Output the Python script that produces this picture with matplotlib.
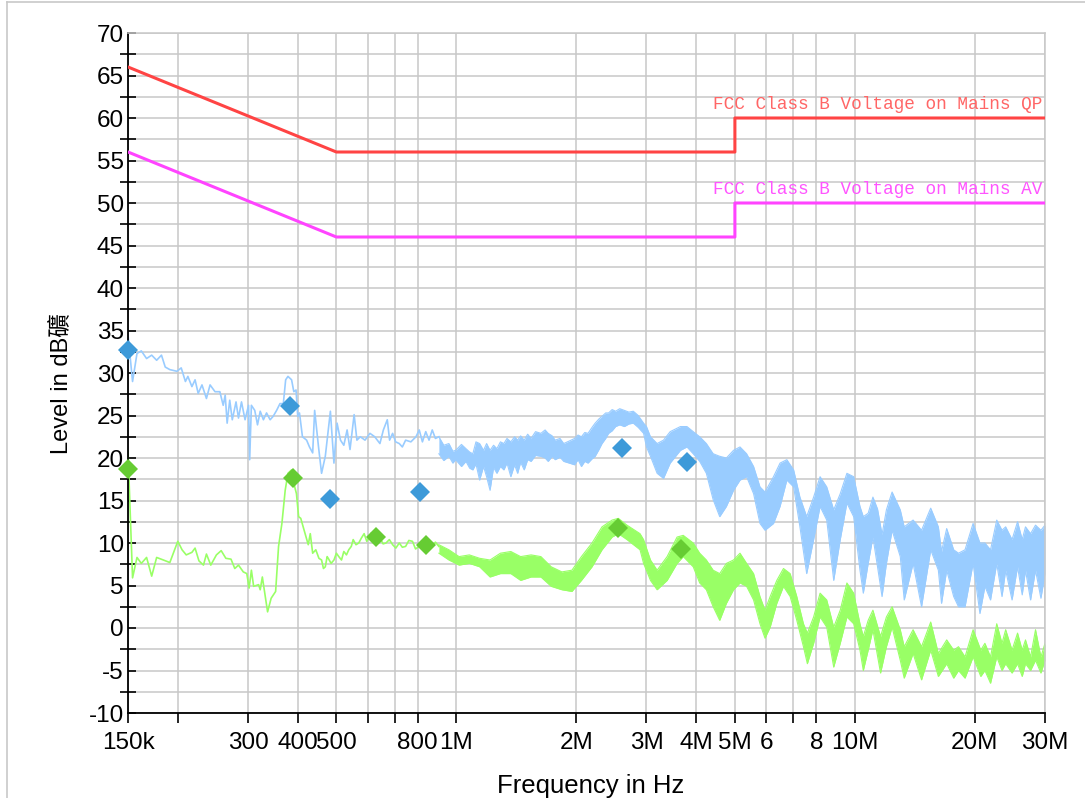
import numpy as np
import matplotlib
matplotlib.use('Agg')
import matplotlib.pyplot as plt
from matplotlib.lines import Line2D

plt.rcParams['font.family'] = ['Liberation Sans', 'Noto Sans CJK TC']
plt.rcParams['axes.unicode_minus'] = False

# limit lines (MHz, dBuV)
limit_f = [0.15, 0.5, 5.0, 5.0, 30.0]
limit_qp = [66, 56, 56, 60, 60]
limit_av = [56, 46, 46, 50, 50]

# final measurement points
blue_pk_f = [0.150, 0.382, 0.482, 0.811, 2.605, 3.79]
blue_pk_db = [32.7, 26.1, 15.2, 16.0, 21.2, 19.5]
green_pk_f = [0.150, 0.389, 0.629, 0.839, 2.545, 3.66]
green_pk_db = [18.7, 17.6, 10.7, 9.8, 11.8, 9.3]

# blue pre-scan, low band (single trace)
blue_scan_f = [0.150, 0.154, 0.158, 0.162, 0.167, 0.172, 0.177, 0.182, 0.186, 0.191,
               0.199, 0.204, 0.209, 0.212, 0.217, 0.221, 0.225, 0.230, 0.236, 0.241,
               0.248, 0.255, 0.260, 0.263, 0.266, 0.270, 0.274, 0.280, 0.284, 0.289,
               0.295, 0.301, 0.303, 0.306, 0.312, 0.317, 0.322, 0.328, 0.334, 0.341,
               0.347, 0.354, 0.361, 0.368, 0.373, 0.378, 0.386, 0.391, 0.396, 0.400,
               0.404, 0.411, 0.421, 0.428, 0.436, 0.441, 0.451, 0.459, 0.469, 0.483,
               0.493, 0.502, 0.512, 0.522, 0.532, 0.541, 0.554, 0.563, 0.574, 0.590,
               0.607, 0.624, 0.643, 0.656, 0.671, 0.680, 0.692, 0.704, 0.719, 0.732,
               0.746, 0.769, 0.792, 0.807, 0.822, 0.838, 0.854, 0.870, 0.886, 0.904]
blue_scan_db = [34.5, 29.0, 32.3, 32.6, 31.7, 32.1, 31.5, 32.1, 30.7, 30.4,
                30.2, 30.6, 29.0, 29.6, 28.4, 29.2, 27.6, 28.6, 27.0, 28.6,
                27.8, 27.8, 26.2, 27.4, 24.1, 26.8, 24.5, 26.6, 24.7, 26.6,
                24.5, 26.2, 19.8, 26.2, 25.6, 23.9, 25.5, 24.5, 25.3, 24.5,
                24.9, 25.6, 26.4, 26.4, 29.2, 29.6, 29.2, 27.8, 28.0, 24.9,
                25.3, 22.5, 22.1, 21.3, 20.6, 25.6, 21.3, 18.2, 20.2, 25.5,
                19.4, 24.1, 22.1, 21.5, 23.3, 21.0, 25.1, 22.1, 22.5, 22.1,
                22.9, 22.5, 21.7, 23.3, 24.5, 22.1, 22.9, 21.9, 21.7, 21.3,
                22.1, 21.9, 22.5, 23.3, 21.9, 23.1, 22.1, 23.3, 22.3, 22.5]

# blue pre-scan above 0.9 MHz, band (upper / lower edge)
blue_band_f = [0.904, 0.93, 0.958, 0.98, 0.996, 1.03, 1.057, 1.08, 1.10, 1.12,
               1.144, 1.17, 1.191, 1.215, 1.24, 1.264, 1.29, 1.316, 1.34, 1.37,
               1.40, 1.425, 1.45, 1.48, 1.51, 1.54, 1.58, 1.63, 1.67, 1.70,
               1.74, 1.77, 1.82, 1.86, 1.92, 1.98, 2.02, 2.06, 2.10, 2.14,
               2.19, 2.23, 2.28, 2.32, 2.37, 2.41, 2.46, 2.51, 2.57, 2.64,
               2.71, 2.78, 2.86, 2.95,
               3.00, 3.07, 3.19, 3.31, 3.44, 3.65, 3.79, 3.93, 4.08, 4.24,
               4.41, 4.58, 4.76, 4.96, 5.15, 5.35, 5.57, 5.78, 5.95, 6.25,
               6.49, 6.75, 7.02, 7.28, 7.57, 7.88, 8.18, 8.50, 8.85, 9.19,
               9.55, 9.93, 10.3, 10.5, 10.8, 11.1, 11.4, 11.7, 12.0, 12.4,
               13.0, 13.3, 14.0, 14.7, 15.5, 16.2, 16.5, 17.0, 17.7, 18.2,
               18.9, 19.8, 20.6, 21.2, 21.9, 22.7, 23.4, 23.9, 24.8, 25.6,
               26.3, 26.8, 27.6, 28.4, 29.3, 30.0]
blue_band_hi = [22.5, 21.5, 21.7, 20.8, 20.9, 21.6, 21.1, 20.7, 20.5, 21.9,
                21.7, 20.9, 21.7, 20.9, 21.5, 21.1, 21.9, 21.7, 22.3, 21.9,
                22.5, 22.1, 22.6, 22.1, 22.8, 22.3, 23.1, 22.9, 23.3, 22.9,
                22.6, 22.1, 22.3, 21.7, 22.0, 22.3, 22.7, 22.5, 23.0, 22.9,
                23.6, 24.1, 24.6, 24.9, 25.3, 25.3, 25.7, 25.5, 25.8, 25.6,
                25.4, 25.5, 25.0, 24.1,
                23.7, 22.5, 21.7, 22.1, 23.1, 23.7, 23.7, 23.1, 22.5, 21.7,
                20.5, 20.2, 20.0, 20.9, 21.3, 20.5, 19.0, 16.6, 16.0, 17.8,
                19.4, 19.8, 18.6, 15.4, 13.1, 15.4, 17.8, 16.6, 13.9, 15.8,
                18.2, 17.8, 14.3, 13.1, 13.5, 15.4, 14.0, 11.0, 13.9, 16.0,
                13.9, 11.9, 12.7, 11.5, 14.1, 11.9, 9.0, 11.7, 9.2, 8.8,
                9.2, 12.3, 10.0, 10.0, 9.2, 12.7, 11.5, 11.9, 10.4, 12.5,
                10.4, 11.9, 11.1, 12.1, 11.5, 12.1]
blue_band_lo = [20.5, 19.7, 20.2, 19.4, 19.8, 19.0, 19.6, 18.8, 18.6, 19.3,
                17.4, 19.0, 17.8, 16.2, 18.9, 18.2, 19.0, 18.6, 19.4, 17.8,
                19.2, 18.2, 19.5, 18.6, 19.8, 19.6, 20.3, 20.2, 20.0, 19.6,
                20.2, 19.8, 20.1, 19.6, 19.4, 19.2, 19.8, 19.0, 19.6, 19.4,
                19.9, 20.2, 21.0, 21.7, 22.3, 22.9, 23.2, 23.7, 23.9, 23.7,
                24.0, 24.1, 23.6, 22.9,
                21.3, 20.2, 18.2, 17.6, 19.4, 20.9, 21.3, 20.5, 19.6, 18.2,
                15.1, 13.1, 14.3, 16.2, 17.4, 17.8, 15.8, 12.3, 11.5, 12.3,
                14.3, 17.4, 16.6, 11.9, 6.4, 10.4, 14.3, 12.7, 5.6, 10.4,
                14.7, 13.1, 6.8, 4.1, 7.6, 10.7, 7.2, 3.7, 7.6, 11.5,
                8.4, 3.3, 7.6, 2.5, 9.2, 6.8, 2.9, 6.8, 3.7, 2.5,
                2.5, 7.6, 1.7, 4.9, 3.3, 7.6, 3.7, 6.8, 3.3, 7.2,
                3.9, 6.8, 3.3, 6.8, 3.5, 6.4]

# green pre-scan, low band (single trace)
green_scan_f = [0.150, 0.154, 0.158, 0.162, 0.167, 0.172, 0.177, 0.184, 0.191, 0.200,
                0.205, 0.210, 0.217, 0.221, 0.226, 0.232, 0.236, 0.242, 0.250, 0.257,
                0.264, 0.272, 0.278, 0.284, 0.292, 0.298, 0.302, 0.306, 0.310, 0.319,
                0.322, 0.326, 0.336, 0.343, 0.352, 0.358, 0.365, 0.372, 0.378, 0.386,
                0.393, 0.397, 0.402, 0.407, 0.415, 0.425, 0.430, 0.436, 0.444, 0.452,
                0.459, 0.464, 0.469, 0.474, 0.477, 0.485, 0.493, 0.500, 0.507, 0.515,
                0.522, 0.530, 0.537, 0.545, 0.551, 0.560, 0.569, 0.578, 0.587, 0.596,
                0.604, 0.612, 0.621, 0.632, 0.643, 0.655, 0.666, 0.679, 0.692, 0.705,
                0.719, 0.732, 0.746, 0.760, 0.776, 0.790, 0.807, 0.822, 0.838, 0.854,
                0.870, 0.886, 0.904]
green_scan_db = [20.8, 5.9, 8.3, 7.6, 8.3, 6.1, 8.3, 8.0, 7.7, 10.2,
                 9.2, 8.6, 8.9, 9.4, 7.9, 7.4, 8.7, 7.4, 8.6, 9.1,
                 8.2, 8.1, 7.0, 7.4, 6.6, 6.4, 4.7, 6.8, 4.9, 5.1,
                 4.5, 6.0, 1.9, 3.5, 4.3, 9.6, 12.3, 16.2, 18.2, 18.6,
                 16.6, 15.8, 13.1, 12.9, 11.5, 9.8, 11.1, 8.8, 9.2, 8.2,
                 8.0, 7.0, 7.2, 8.4, 8.2, 7.6, 8.0, 8.8, 8.4, 8.0,
                 9.0, 8.6, 9.2, 9.6, 10.4, 9.8, 10.0, 10.6, 11.1, 10.2,
                 10.6, 11.2, 10.9, 10.2, 10.6, 9.9, 10.0, 10.4, 9.8, 9.4,
                 10.0, 9.5, 9.6, 10.3, 10.2, 9.3, 9.6, 10.3, 10.0, 9.4,
                 9.6, 10.1, 9.6]

# green pre-scan above 0.9 MHz, band
green_band_f = [0.904, 0.958, 1.016, 1.078, 1.144, 1.215, 1.29, 1.37, 1.45, 1.54,
                1.63, 1.73, 1.84, 1.95, 2.06, 2.19, 2.32, 2.46, 2.55, 2.68,
                2.89, 2.95, 3.07, 3.19, 3.38, 3.58, 3.71, 3.93, 4.08, 4.24,
                4.41, 4.58, 4.76, 4.96, 5.15, 5.35, 5.57, 5.78, 5.95, 6.13,
                6.37, 6.62, 6.88, 7.15, 7.43, 7.60, 7.88, 8.18, 8.50, 8.85,
                9.19, 9.55, 9.93, 10.3, 10.5, 10.8, 11.1, 11.6, 12.0, 12.4,
                13.0, 13.3, 14.0, 14.7, 15.5, 16.2, 17.0, 17.7, 18.2, 18.9,
                19.8, 20.7, 21.2, 21.9, 22.7, 23.4, 23.9, 24.8, 25.6, 26.3,
                26.8, 27.6, 28.4, 29.3, 30.0]
green_band_hi = [9.8, 9.2, 8.4, 8.6, 8.2, 8.0, 8.8, 9.0, 8.4, 8.6,
                 8.4, 7.2, 6.6, 6.8, 8.4, 10.0, 11.9, 12.7, 12.9, 12.1,
                 11.1, 10.4, 8.0, 6.8, 8.4, 10.7, 10.9, 10.0, 8.8, 8.0,
                 6.8, 6.4, 7.6, 8.0, 8.8, 7.6, 6.4, 3.7, 2.1, 3.7,
                 5.6, 7.0, 6.4, 3.7, 0.5, -0.6, 1.3, 4.1, 3.3, 0.1,
                 2.1, 5.3, 4.1, 0.5, -1.0, 0.9, 2.1, -1.0, 1.3, 2.5,
                 -0.2, -2.2, -0.2, -2.2, 0.7, -3.0, -1.4, -2.6, -2.2, -3.4,
                 -0.2, -2.6, -1.8, -3.4, 0.5, -1.8, -0.2, -2.6, -0.6, -2.6,
                 -1.4, -3.4, -0.2, -3.4, -1.8]
green_band_lo = [8.8, 8.0, 7.4, 7.6, 7.2, 6.0, 6.4, 6.4, 5.6, 6.0,
                 6.0, 4.9, 4.5, 4.3, 5.6, 7.2, 9.2, 10.7, 11.1, 10.4,
                 9.2, 7.6, 5.6, 4.5, 5.6, 7.6, 8.4, 7.2, 5.3, 4.5,
                 2.5, 0.9, 2.9, 4.5, 5.3, 4.9, 3.3, 0.5, -1.2, 0.1,
                 2.9, 4.9, 3.7, 0.9, -2.2, -4.2, -1.8, 1.3, 0.1, -4.6,
                 -1.8, 1.3, 0.5, -2.6, -5.0, -2.6, -0.2, -5.3, -2.2, 0.1,
                 -3.8, -5.9, -3.0, -6.1, -2.6, -5.7, -4.2, -5.9, -5.0, -5.9,
                 -3.4, -5.7, -5.0, -6.5, -3.4, -5.0, -4.2, -5.3, -4.2, -5.7,
                 -4.2, -5.0, -3.8, -5.3, -3.8]

# axis ticks
x_ticks = [0.15, 0.2, 0.3, 0.4, 0.5, 0.6, 0.7, 0.8, 1, 2, 3, 4, 5, 6, 7, 8, 10, 20, 30]
x_labels = ['150k', '', '300', '400', '500', '', '', '800', '1M', '2M', '3M', '4M',
            '5M', '6', '', '8', '10M', '20M', '30M']
y_ticks = [-10, -5, 0, 5, 10, 15, 20, 25, 30, 35, 40, 45, 50, 55, 60, 65, 70]
y_minor = [-7.5, -2.5, 2.5, 7.5, 12.5, 17.5, 22.5, 27.5, 32.5, 37.5, 42.5, 47.5,
           52.5, 57.5, 62.5, 67.5]

QP_COLOR = '#ff4444'
AV_COLOR = '#ff44ff'
BLUE_TRACE = '#99ccff'
GREEN_TRACE = '#99ff66'
BLUE_MARK = '#3d9ad9'
GREEN_MARK = '#66cc33'
GRID = '#c8c8c8'

fig = plt.figure(figsize=(10.85, 7.98), dpi=100)
ax = fig.add_axes([128/1085, 1-713/798, 917/1085, 680/798])
ax.set_xscale('log')
ax.set_xlim(0.15, 30)
ax.set_ylim(-10, 70)

ax.set_xticks(x_ticks)
ax.set_xticklabels(x_labels)
ax.xaxis.set_minor_locator(matplotlib.ticker.NullLocator())
ax.set_yticks(y_ticks)
ax.set_yticklabels([str(v) for v in y_ticks])
ax.set_yticks(y_minor, minor=True)
ax.tick_params(axis='x', which='major', direction='out', length=7, width=1.2, pad=7, labelsize=17.5)
ax.tick_params(axis='y', which='major', direction='in', length=6, width=1.2, pad=3, labelsize=17.5)
ax.tick_params(axis='y', which='minor', direction='inout', length=11, width=1.2)
ax.grid(True, which='both', color=GRID, lw=1.1)
ax.set_axisbelow(True)
for s in ['top', 'right']:
    ax.spines[s].set_color(GRID)
    ax.spines[s].set_linewidth(1.1)
for s in ['left', 'bottom']:
    ax.spines[s].set_linewidth(1.3)

# traces
ax.plot(green_scan_f, green_scan_db, color=GREEN_TRACE, lw=1.2, zorder=2)
ax.fill_between(green_band_f, green_band_lo, green_band_hi, color=GREEN_TRACE, lw=0, zorder=2)
ax.plot(green_band_f, green_band_hi, color=GREEN_TRACE, lw=0.8, zorder=2)
ax.plot(green_band_f, green_band_lo, color=GREEN_TRACE, lw=0.8, zorder=2)

ax.plot(blue_scan_f, blue_scan_db, color=BLUE_TRACE, lw=1.2, zorder=2)
ax.fill_between(blue_band_f, blue_band_lo, blue_band_hi, color=BLUE_TRACE, lw=0, zorder=2)
ax.plot(blue_band_f, blue_band_hi, color=BLUE_TRACE, lw=0.8, zorder=2)
ax.plot(blue_band_f, blue_band_lo, color=BLUE_TRACE, lw=0.8, zorder=2)

# limits
ax.plot(limit_f, limit_qp, color=QP_COLOR, lw=2.2, zorder=3)
ax.plot(limit_f, limit_av, color=AV_COLOR, lw=2.2, zorder=3)
ax.text(29.5, 60.6, 'FCC Class B Voltage on Mains QP', ha='right', va='bottom',
        family='Liberation Mono', fontsize=12.8, color='#ff6666')
ax.text(29.5, 50.6, 'FCC Class B Voltage on Mains AV', ha='right', va='bottom',
        family='Liberation Mono', fontsize=12.8, color='#ff55ff')

# final points
ax.plot(blue_pk_f, blue_pk_db, 'D', ms=10.5, mew=0, color=BLUE_MARK, clip_on=False, zorder=5)
ax.plot(green_pk_f, green_pk_db, 'D', ms=10.5, mew=0, color=GREEN_MARK, clip_on=False, zorder=5)

ax.set_xlabel('Frequency in Hz', fontsize=18.5)
ax.xaxis.set_label_coords(0.504, -0.089)
ax.set_ylabel('Level in dB礦', fontsize=17)
ax.yaxis.set_label_coords(-0.060, 0.485)

# outer frame (left and top edges)
fig.add_artist(Line2D([7/1085, 7/1085], [0, 1-2/798], transform=fig.transFigure, color='#c8c8c8', lw=1.2))
fig.add_artist(Line2D([7/1085, 1], [1-2/798, 1-2/798], transform=fig.transFigure, color='#c8c8c8', lw=1.2))

fig.savefig('out.png', dpi=100)
